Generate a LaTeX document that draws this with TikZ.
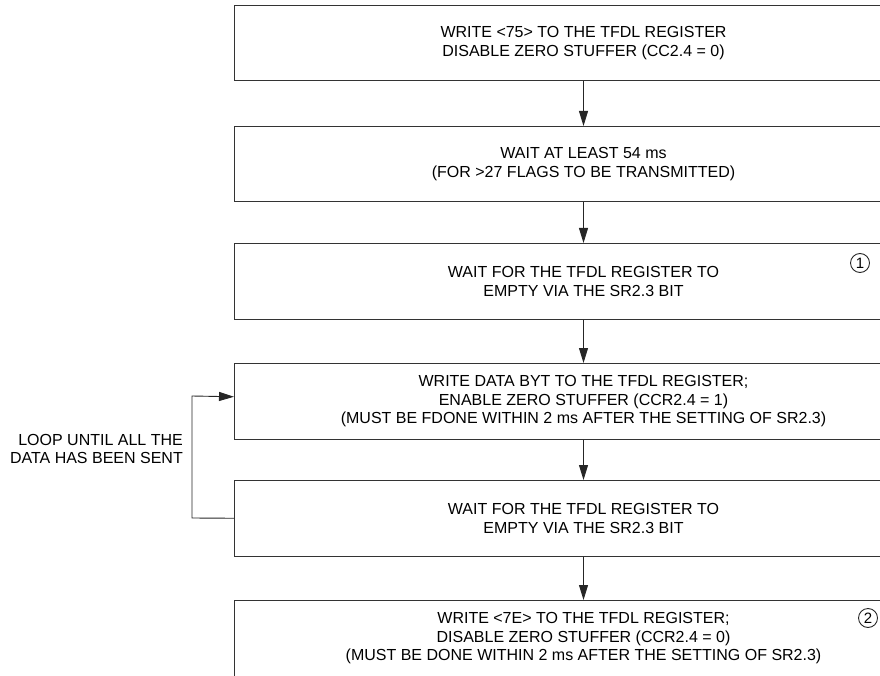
\documentclass[tikz,border=0pt]{standalone}
\usepackage{fontspec}
\setmainfont{Liberation Sans}
\usetikzlibrary{arrows.meta}
\begin{document}
\begin{tikzpicture}[x=1pt,y=-1pt,
  box/.style={draw=black!80, line width=1pt, minimum width=698pt, minimum height=75.5pt,
    inner sep=0pt, align=center, font=\fontsize{16}{18.5}\selectfont, anchor=north west},
  arr/.style={-{Triangle[length=15pt,width=9pt]}, line width=0.9pt, draw=black!85},
  num/.style={draw=black!85, circle, inner sep=0pt, minimum size=19pt, line width=0.9pt,
    font=\fontsize{15}{15}\selectfont},
  lbl/.style={align=right, anchor=east, font=\fontsize{16}{18.5}\selectfont, inner sep=0pt}]
\useasboundingbox (0,0) rectangle (880,676);
\node[box] (b1) at (234,5) {WRITE <75> TO THE TFDL REGISTER\\DISABLE ZERO STUFFER (CC2.4 = 0)};
\node[box] (b2) at (234,126) {WAIT AT LEAST 54 ms\\(FOR >27 FLAGS TO BE TRANSMITTED)};
\node[box] (b3) at (234,243) {WAIT FOR THE TFDL REGISTER TO\\EMPTY VIA THE SR2.3 BIT};
\node[box] (b4) at (234,363) {WRITE DATA BYT TO THE TFDL REGISTER;\\ENABLE ZERO STUFFER (CCR2.4 = 1)\\(MUST BE FDONE WITHIN 2 ms AFTER THE SETTING OF SR2.3)};
\node[box] (b5) at (234,480) {WAIT FOR THE TFDL REGISTER TO\\EMPTY VIA THE SR2.3 BIT};
\node[box] (b6) at (234,600) {WRITE <7E> TO THE TFDL REGISTER;\\DISABLE ZERO STUFFER (CCR2.4 = 0)\\(MUST BE DONE WITHIN 2 ms AFTER THE SETTING OF SR2.3)};
\node[num] (c1) at (860,263) {1};
\node[num] (c2) at (868,618) {2};
\node[lbl] (loop) at (183,449) {LOOP UNTIL ALL THE\\DATA HAS BEEN SENT};
\draw[arr] (b1.south) -- (b2.north);
\draw[arr] (b2.south) -- (b3.north);
\draw[arr] (b3.south) -- (b4.north);
\draw[arr] (b4.south) -- (b5.north);
\draw[arr] (b5.south) -- (b6.north);
\coordinate (lb) at (192,518);
\coordinate (lt) at (192,396);
\draw[arr] (b5.west) -- (lb) -- (lt) -- ([yshift=4.5pt]b4.west);
\end{tikzpicture}
\end{document}
